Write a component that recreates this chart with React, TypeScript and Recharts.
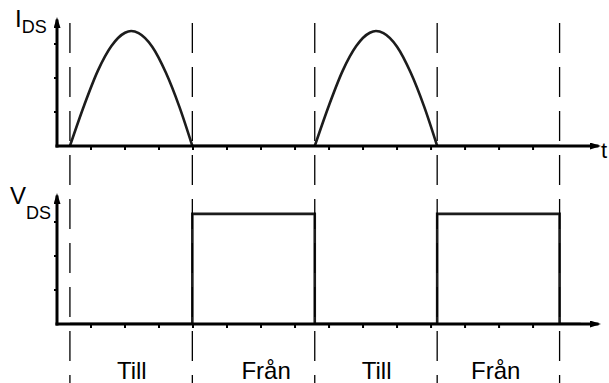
import { LineChart, Line, XAxis, YAxis, ReferenceLine } from "recharts";

const W = 609;
const H = 383;
const X_MAX = 15.88;
const FONT = "'Liberation Sans', Arial, Helvetica, sans-serif";
const INK = "#000";
const WAVE = "#1c1c1c";

// switching instants (vertical dashed lines) and the axis tick marks
const switchTimes = [0.38, 3.98, 7.58, 11.18, 14.78];
const timeTicks = [1, 2, 3, 4, 5, 6, 7, 8, 9, 10, 11, 12, 13, 14];
const levelTicks = [1, 2, 3];

// I_DS: the two half-wave humps and the flat parts between them
const hump1T = [0.38, 0.8, 1.2, 1.6, 2.0, 2.18, 2.4, 2.8, 3.2, 3.6, 3.98];
const hump2T = [7.58, 8.0, 8.4, 8.8, 9.2, 9.38, 9.6, 10.0, 10.4, 10.8, 11.18];
const humpI = [0, 1.2, 2.21, 2.94, 3.33, 3.38, 3.32, 2.92, 2.16, 1.15, 0];
const flat1T = [3.98, 7.58];
const flat2T = [11.18, 14.78];
const flatI = [0, 0];

// V_DS square wave
const vdsT = [0.38, 3.98, 3.98, 7.58, 7.58, 11.18, 11.18, 14.78, 14.78, 15.4];
const vdsV = [0, 0, 3.24, 3.24, 0, 0, 3.24, 3.24, 0, 0];

// phase names under the plot
const phaseLabels = ["Till", "Från", "Till", "Från"];
const phasePos = [2.2, 6.15, 9.4, 12.9];

const zip = (ts: number[], vs: number[], key: string) =>
  ts.map((t, i) => ({ t, [key]: vs[i] }));

const hump1 = zip(hump1T, humpI, "i");
const hump2 = zip(hump2T, humpI, "i");
const flat1 = zip(flat1T, flatI, "i");
const flat2 = zip(flat2T, flatI, "i");
const vds = zip(vdsT, vdsV, "v");
const frame = zip([0, X_MAX], [0, 1], "y");

const axisLine = (id: string, end: "x" | "y") => ({
  stroke: INK,
  strokeWidth: 3,
  strokeLinecap: "square",
  ...(end === "x" ? { markerEnd: `url(#${id})` } : { markerStart: `url(#${id})` }),
});

const arrowDefs = (id: string) => (
  <defs>
    <marker id={id} viewBox="0 0 11 7" refX={7} refY={3.5} markerWidth={11} markerHeight={7}
      markerUnits="userSpaceOnUse" orient="auto-start-reverse">
      <path d="M0,0 L11,3.5 L0,7 Z" fill={INK} />
    </marker>
  </defs>
);

const waveProps = {
  stroke: WAVE,
  strokeWidth: 2.6,
  dot: false,
  activeDot: false,
  isAnimationActive: false,
} as const;

const layer = { position: "absolute" as const, left: 0, top: 0 };

export default function App() {
  return (
    <div style={{ position: "absolute", left: 0, top: 0, width: W, height: H, fontFamily: FONT, background: "#fff" }}>
      {/* top panel: I_DS */}
      <div style={layer}>
        <LineChart width={W} height={H} margin={{ top: 21, right: 12, left: 0, bottom: 207 }}>
          {arrowDefs("arrI")}
          <XAxis dataKey="t" type="number" domain={[0, X_MAX]} allowDataOverflow ticks={timeTicks}
            tickFormatter={() => ""} tickSize={4} height={30}
            axisLine={axisLine("arrI", "x")} tickLine={{ stroke: INK, strokeWidth: 2 }}
            label={() => <text x={601} y={158} fontSize={22} fill={INK} fontFamily={FONT}>t</text>} />
          <YAxis type="number" domain={[0, 3.676]} allowDataOverflow ticks={levelTicks}
            tickFormatter={() => ""} tickSize={3} width={57}
            axisLine={axisLine("arrI", "y")} tickLine={{ stroke: INK, strokeWidth: 2 }}
            label={() => (
              <text x={15} y={27} fontSize={24} fill={INK} fontFamily={FONT}>
                I<tspan dy={6} fontSize={18}>DS</tspan>
              </text>
            )} />
          <Line data={hump1} dataKey="i" type="monotone" {...waveProps} />
          <Line data={hump2} dataKey="i" type="monotone" {...waveProps} />
          <Line data={flat1} dataKey="i" type="linear" {...waveProps} />
          <Line data={flat2} dataKey="i" type="linear" {...waveProps} />
        </LineChart>
      </div>

      {/* bottom panel: V_DS */}
      <div style={layer}>
        <LineChart width={W} height={H} margin={{ top: 197, right: 12, left: 0, bottom: 0 }}>
          {arrowDefs("arrV")}
          <XAxis dataKey="t" type="number" domain={[0, X_MAX]} allowDataOverflow ticks={timeTicks}
            tickFormatter={() => ""} tickSize={4} height={30}
            axisLine={axisLine("arrV", "x")} tickLine={{ stroke: INK, strokeWidth: 2 }} />
          <XAxis xAxisId="phase" dataKey="t" type="number" domain={[0, X_MAX]} allowDataOverflow
            ticks={phasePos} tickFormatter={(_v: number, i: number) => phaseLabels[i]}
            axisLine={false} tickLine={false} height={29} tickSize={6} tickMargin={2}
            tick={{ fontSize: 24, fill: INK, fontFamily: FONT }} interval={0} />
          <YAxis type="number" domain={[0, 3.735]} allowDataOverflow ticks={levelTicks}
            tickFormatter={() => ""} tickSize={3} width={57}
            axisLine={axisLine("arrV", "y")} tickLine={{ stroke: INK, strokeWidth: 2 }}
            label={() => (
              <text x={10} y={204} fontSize={24} fill={INK} fontFamily={FONT}>
                V<tspan dy={15} fontSize={18}>DS</tspan>
              </text>
            )} />
          <Line data={vds} dataKey="v" type="linear" {...waveProps} />
        </LineChart>
      </div>

      {/* dashed switching lines across both panels, drawn top to bottom */}
      <div style={{ ...layer, pointerEvents: "none" }}>
        <LineChart width={W} height={H} data={frame}
          margin={{ top: 23, right: 12, left: 57, bottom: 0 }}>
          <XAxis dataKey="t" type="number" domain={[0, X_MAX]} hide />
          <YAxis type="number" domain={[0, 1]} hide />
          <Line dataKey="y" stroke="none" dot={false} activeDot={false} isAnimationActive={false} />
          {switchTimes.map((t) => (
            <ReferenceLine key={t} segment={[{ x: t, y: 1 }, { x: t, y: 0 }]}
              stroke={INK} strokeWidth={1.3} strokeDasharray="30 14" />
          ))}
        </LineChart>
      </div>
    </div>
  );
}
